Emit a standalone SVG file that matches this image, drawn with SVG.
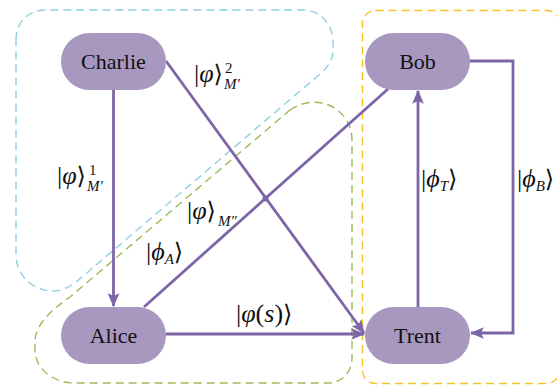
<svg xmlns="http://www.w3.org/2000/svg" width="557" height="386" viewBox="0 0 557 386">
<style>
.grp{fill:none;stroke-width:1.4;stroke-dasharray:8 5}
.node rect{fill:#a898bf}
.node text{font-family:"Liberation Serif","Times New Roman",serif;font-size:22px;fill:#111;text-anchor:middle}
.edge{fill:none;stroke:#7d65a8;stroke-width:2.8}
.lbl{font-family:"Liberation Serif","DejaVu Serif",serif;font-size:26px;fill:#111}
.it{font-style:italic}
.sm{font-size:15px}
.br{font-family:"DejaVu Serif","Liberation Serif",serif;font-size:24px}
</style>
<defs>
<marker id="ah" markerWidth="14" markerHeight="12" refX="11" refY="5" orient="auto" markerUnits="userSpaceOnUse" viewBox="0 0 12 10">
<path d="M0,0 L12,5 L0,10 L2.5,5 Z" fill="#7d65a8"/>
</marker>
</defs>
<g id="groups">
<path class="grp" stroke="#8fd0e2" d="M16,40 C16,22 28,10 46,10 L303,10 C320,10 333,24 333,42 L333,50 C333,60 328,67 320,74 L82,277 C72,286 63,291 53,291 C33,291 16,275 16,255 Z"/>
<path class="grp" stroke="#9dbb55" d="M290,110 C300,103 312,101 322,103 C340,107 352,122 352,140 L352,358 C352,372 342,383 328,383 L75,383 C52,383 35,368 35,350 L35,342 C35,325 50,311 70,297 Z"/>
<rect class="grp" stroke="#f6c324" x="362.5" y="10.5" width="197" height="373" rx="13"/>
</g>
<g id="connectors">
<line class="edge" x1="113.5" y1="90" x2="113.5" y2="306" marker-end="url(#ah)"/>
<line class="edge" x1="166" y1="61" x2="364" y2="333" marker-end="url(#ah)"/>
<line class="edge" x1="144" y1="307" x2="388" y2="89"/>
<circle cx="265.5" cy="198.5" r="3" fill="#7d65a8"/>
<line class="edge" x1="166" y1="334" x2="364" y2="334" marker-end="url(#ah)"/>
<line class="edge" x1="418" y1="307" x2="418" y2="91" marker-end="url(#ah)"/>
<polyline class="edge" points="470,61 513,61 513,333 471,333" marker-end="url(#ah)"/>
</g>
<g id="labels">
<text class="lbl" x="194" y="82">|<tspan class="it">φ</tspan><tspan class="br">⟩</tspan><tspan class="sm" x="225" y="73">2</tspan><tspan class="sm it" x="224" y="89">M′</tspan></text>
<text class="lbl" x="57" y="184">|<tspan class="it">φ</tspan><tspan class="br">⟩</tspan><tspan class="sm" x="89" y="175">1</tspan><tspan class="sm it" x="87" y="191">M′</tspan></text>
<text class="lbl" x="187" y="219">|<tspan class="it">φ</tspan><tspan class="br">⟩</tspan><tspan class="sm it" x="218" y="226">M″</tspan></text>
<text class="lbl" x="146" y="260">|<tspan class="it">ϕ</tspan><tspan class="sm it" dy="4">A</tspan><tspan class="br" dy="-4">⟩</tspan></text>
<text class="lbl" x="236" y="322">|<tspan class="it">φ</tspan>(<tspan class="it">s</tspan>)<tspan class="br">⟩</tspan></text>
<text class="lbl" x="421" y="187">|<tspan class="it">ϕ</tspan><tspan class="sm it" dy="4">T</tspan><tspan class="br" dy="-4">⟩</tspan></text>
<text class="lbl" x="517" y="187">|<tspan class="it">ϕ</tspan><tspan class="sm it" dy="4">B</tspan><tspan class="br" dy="-4">⟩</tspan></text>
</g>
<g id="charlie" class="node"><rect x="61" y="33" width="105" height="57" rx="28.5"/><text x="113.5" y="69">Charlie</text></g>
<g id="alice" class="node"><rect x="61" y="307" width="105" height="57" rx="28.5"/><text x="113.5" y="343">Alice</text></g>
<g id="bob" class="node"><rect x="365" y="33" width="105" height="57" rx="28.5"/><text x="417.5" y="69">Bob</text></g>
<g id="trent" class="node"><rect x="365" y="307" width="105" height="57" rx="28.5"/><text x="417.5" y="343">Trent</text></g>
</svg>
